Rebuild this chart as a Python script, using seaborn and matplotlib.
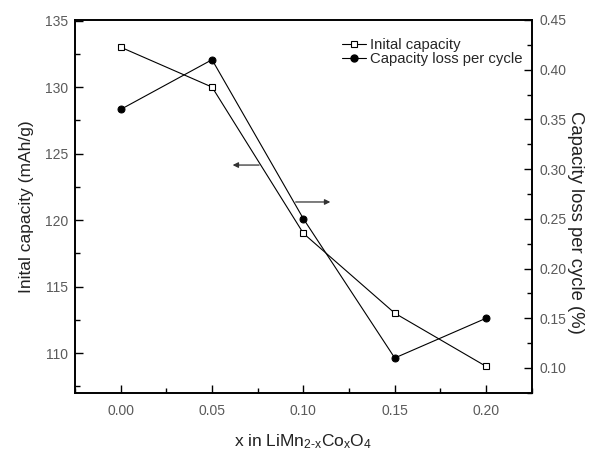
import matplotlib
matplotlib.use("Agg")
import matplotlib.pyplot as plt
import seaborn as sns
import pandas as pd
from matplotlib.ticker import MultipleLocator
from matplotlib.lines import Line2D

x_values = [0.00, 0.05, 0.10, 0.15, 0.20]
initial_capacity = [133, 130, 119, 113, 109]
capacity_loss = [0.36, 0.41, 0.25, 0.11, 0.15]
x_ticks = [0.00, 0.05, 0.10, 0.15, 0.20]
left_ticks = [110, 115, 120, 125, 130, 135]
right_ticks = [0.10, 0.15, 0.20, 0.25, 0.30, 0.35, 0.40, 0.45]

sns.set_style("ticks")
plt.rcParams['font.family'] = ['Liberation Sans', 'DejaVu Sans']
plt.rcParams['mathtext.fontset'] = 'custom'
plt.rcParams['mathtext.rm'] = 'Liberation Sans'
plt.rcParams['mathtext.it'] = 'Liberation Sans'

df = pd.DataFrame({"x": x_values, "cap": initial_capacity, "loss": capacity_loss})

fig = plt.figure(figsize=(6.05, 4.5), dpi=100)
ax = fig.add_axes([0.124, 0.1267, 0.755, 0.829])
ax2 = ax.twinx()

sns.lineplot(data=df, x="x", y="cap", ax=ax, color="black", lw=0.8,
             marker="s", markersize=5, markerfacecolor="white",
             markeredgecolor="black", markeredgewidth=0.8)
sns.lineplot(data=df, x="x", y="loss", ax=ax2, color="black", lw=0.8,
             marker="o", markersize=5, markerfacecolor="black",
             markeredgecolor="black")

ax.set_xlim(-0.025, 0.225)
ax.set_ylim(107.0, 135.05)
ax2.set_ylim(0.0748, 0.45)

ax.set_xticks(x_ticks)
ax.set_xticklabels([f"{v:.2f}" for v in x_ticks])
ax.set_yticks(left_ticks)
ax2.set_yticks(right_ticks)
ax2.set_yticklabels([f"{v:.2f}" for v in right_ticks])
ax.xaxis.set_minor_locator(MultipleLocator(0.025))
ax.yaxis.set_minor_locator(MultipleLocator(2.5))
ax2.yaxis.set_minor_locator(MultipleLocator(0.025))

tick_color = "#5a5a5a"
for a in (ax, ax2):
    a.tick_params(which="major", direction="in", length=6, width=1.0,
                  labelsize=10, labelcolor=tick_color, color="black")
    a.tick_params(which="minor", direction="in", length=3.5, width=1.0,
                  color="black")
    for s in a.spines.values():
        s.set_linewidth(1.2)
        s.set_color("black")
        s.set_visible(True)
ax.tick_params(axis="x", which="major", pad=8)
ax.tick_params(axis="y", which="major", pad=5)
ax2.tick_params(axis="y", which="major", pad=5.5)

ax.set_xlabel(r"x in LiMn$_{\mathregular{2\text{-}x}}$Co$_{\mathregular{x}}$O$_{\mathregular{4}}$",
              fontsize=12.5, color="#222222", labelpad=10)
ax.set_ylabel("Inital capacity (mAh/g)", fontsize=12.5, color="#222222", labelpad=8)
ax2.set_ylabel("Capacity loss per cycle (%)", fontsize=13.3, color="#222222",
               rotation=270, labelpad=6.5, va="center", ha="center")
ax2.yaxis.label.set_y(0.458)

handles = [
    Line2D([], [], color="black", lw=0.8, marker="s", markersize=5,
           markerfacecolor="white", markeredgecolor="black", markeredgewidth=0.8),
    Line2D([], [], color="black", lw=0.8, marker="o", markersize=5,
           markerfacecolor="black"),
]
ax.legend(handles, ["Inital capacity", "Capacity loss per cycle"],
          loc="upper left", bbox_to_anchor=(0.571, 0.968), frameon=False,
          fontsize=10.7, handlelength=1.6, handletextpad=0.3, labelspacing=0.02,
          borderaxespad=0)

arrow_style = dict(arrowstyle="-|>", color="#333333", lw=0.9, mutation_scale=8)
ax.annotate("", xy=(0.339, 0.611), xytext=(0.409, 0.611),
            xycoords="axes fraction", arrowprops=arrow_style)
ax.annotate("", xy=(0.565, 0.512), xytext=(0.477, 0.512),
            xycoords="axes fraction", arrowprops=arrow_style)

fig.savefig("out.png", dpi=100)
